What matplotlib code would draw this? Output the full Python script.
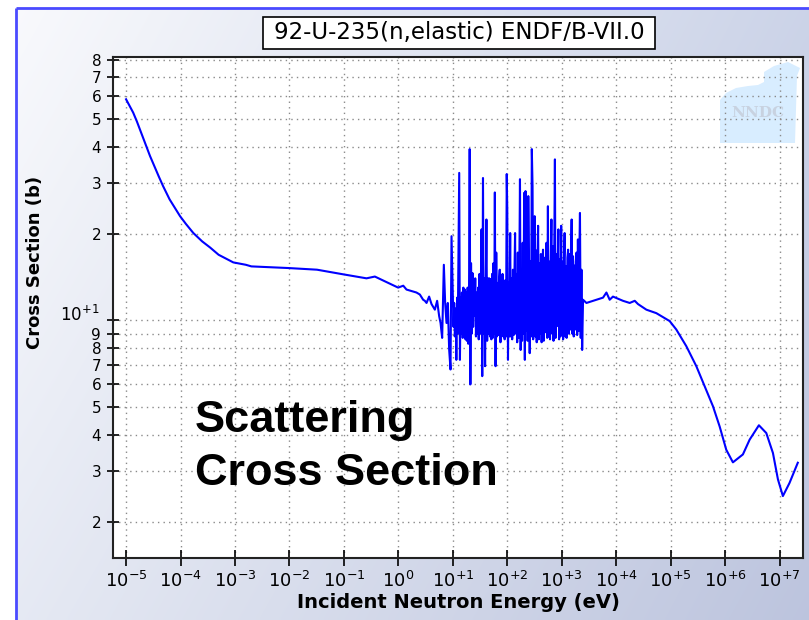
import numpy as np
import matplotlib
matplotlib.use('Agg')
import matplotlib.pyplot as plt
from matplotlib.ticker import FixedLocator, FixedFormatter, NullLocator
from matplotlib.patches import Polygon, Rectangle

# ---------------- data ----------------
title = "92-U-235(n,elastic) ENDF/B-VII.0"
xlabel = "Incident Neutron Energy (eV)"
ylabel = "Cross Section (b)"
annotation = ["Scattering", "Cross Section"]

# smooth low-energy part (eV, barns)
e_low = [1e-5, 1.35e-5, 1.58e-5, 2.1e-5, 2.75e-5, 3.98e-5, 4.8e-5, 6.3e-5, 9.8e-5,
         1.26e-4, 1.72e-4, 2.5e-4, 3.5e-4, 5.0e-4, 9.3e-4, 1.58e-3, 2.0e-3, 9.5e-3,
         3.2e-2, 9.8e-2, 0.26, 0.37, 0.99, 1.23, 1.41, 2.15, 2.48,
         2.85, 3.06, 3.29, 3.67, 4.06, 4.68, 5.15, 5.61, 5.95, 6.37, 6.84, 7.23,
         7.66, 8.09, 8.56, 9.07, 9.46]
s_low = [58.5, 52.6, 49.0, 42.5, 37.2, 31.6, 29.2, 26.3, 23.0,
         21.6, 20.1, 18.8, 17.9, 16.9, 15.9, 15.6, 15.4, 15.2,
         15.0, 14.45, 14.0, 14.2, 13.0, 13.2, 12.8, 12.5, 12.3,
         11.8, 11.7, 11.5, 12.1, 11.4, 10.9, 11.7, 10.35, 9.8, 8.7, 15.6, 11.5,
         9.8, 11.5, 7.93, 6.76, 19.6]

# resolved resonance region, 10 - 100 eV (eV, barns)
e_res1 = [10.0, 10.3, 10.6, 10.9, 11.3, 11.6, 12.0, 12.3, 12.7, 13.1, 13.5, 13.9,
          14.3, 14.7, 15.2, 15.6, 16.1, 16.6, 17.1, 17.6, 18.1, 18.7, 19.2, 19.8,
          20.4, 21.0, 21.6, 22.3, 23.0, 23.6, 24.3, 25.1, 25.8, 26.6, 27.4, 28.2,
          29.1, 29.9, 30.8, 31.8, 32.7, 33.7, 34.7, 35.8, 36.8, 37.9, 39.1, 40.2,
          41.4, 42.7, 44.0, 45.3, 46.7, 48.1, 49.5, 51.0, 52.5, 54.1, 55.7, 57.4,
          59.1, 60.9, 62.7, 64.6, 66.5, 68.5, 70.6, 72.7, 74.9, 77.1, 79.4, 81.8,
          84.3, 86.8, 89.4, 92.1, 94.8, 97.7]
s_res1 = [12.5, 9.5, 11.5, 8.8, 11.0, 7.3, 12.0, 9.0, 17.6, 32.5, 7.3, 12.0,
          9.0, 12.5, 8.7, 13.0, 9.2, 12.8, 8.6, 12.5, 8.5, 13.0, 8.3, 11.5,
          39.3, 6.0, 15.8, 9.0, 14.6, 9.5, 13.5, 10.4, 14.0, 8.8, 12.5, 9.0,
          13.0, 8.6, 14.5, 9.0, 13.5, 20.7, 6.41, 31.2, 9.0, 14.0, 6.94, 13.0,
          22.4, 8.5, 14.0, 9.0, 14.0, 8.8, 13.9, 8.6, 14.5, 8.7, 15.8, 9.0,
          27.8, 6.94, 17.2, 8.8, 13.5, 8.9, 13.8, 15.0, 8.4, 14.0, 9.3, 14.5,
          8.8, 12.8, 8.6, 13.8, 8.8, 32.2]

# resolved resonance region, 100 - 1000 eV (eV, barns)
e_res2 = [100, 103, 106, 109, 113, 116, 120, 123, 127, 131, 135, 139, 143, 147,
          152, 156, 161, 166, 171, 176, 181, 187, 192, 198, 204, 210, 216, 223,
          230, 236, 243, 251, 258, 266, 274, 282, 291, 299, 308, 318, 327, 337,
          347, 358, 368, 379, 391, 402, 414, 427, 440, 453, 467, 481, 495, 510,
          525, 541, 557, 574, 591, 609, 627, 646, 665, 685, 706, 727, 749, 771,
          794, 818, 843, 868, 894, 921, 948, 977]
s_res2 = [24.3, 7.3, 13.5, 8.8, 20.1, 8.8, 14.0, 8.6, 15.0, 8.9, 14.0, 20.1, 9.0, 14.5,
          8.4, 17.2, 8.7, 14.0, 30.9, 7.9, 15.0, 8.5, 18.6, 9.0, 27.7, 7.3, 28.1, 9.2,
          21.3, 8.5, 27.0, 15.5, 7.7, 16.0, 8.8, 39.3, 29.2, 8.6, 16.5, 23.0, 8.8, 17.5,
          8.4, 16.0, 21.3, 8.6, 15.8, 9.0, 17.0, 8.4, 15.5, 17.6, 8.5, 16.5, 9.1, 15.5,
          18.6, 8.7, 24.9, 8.8, 16.0, 8.6, 15.5, 22.4, 9.0, 18.1, 8.5, 16.5, 36.2, 8.7,
          17.0, 9.56, 15.5, 20.7, 8.6, 16.3, 8.8, 21.3]

# resolved resonance region, 1 - 2.4 keV (eV, barns)
e_res3 = [1000, 1030, 1060, 1090, 1130, 1160, 1200, 1230, 1270, 1310, 1350, 1390,
          1430, 1470, 1520, 1560, 1610, 1660, 1710, 1760, 1810, 1870, 1920, 1980,
          2040, 2100, 2160, 2230, 2300, 2370]
s_res3 = [9.0, 16.0, 8.6, 15.5, 20.1, 8.8, 15.4, 8.7, 16.5, 17.6, 9.0, 17.0,
          9.3, 15.5, 22.4, 9.0, 16.7, 8.8, 15.5, 9.3, 16.0, 17.2, 8.9, 19.1,
          9.2, 16.5, 23.6, 8.7, 15.0, 7.9]

# unresolved / fast region (eV, barns)
e_high = [2460, 2840, 3760, 5730, 6610, 7590, 8720, 13300, 17700, 21900, 25100,
          35800, 54600, 95900, 1.27e5, 1.94e5, 2.96e5, 4.21e5, 5.98e5, 7.93e5,
          1.05e6, 1.39e6, 2.12e6, 2.82e6, 4.17e6, 5.70e6, 7.55e6, 9.33e6,
          1.15e7, 1.52e7, 2.16e7]
s_high = [11.8, 11.5, 11.7, 12.0, 12.5, 11.8, 12.1, 11.7, 11.5, 11.7, 11.4,
          10.9, 10.6, 9.95, 9.3, 8.14, 6.94, 5.91, 5.04, 4.29,
          3.56, 3.22, 3.43, 3.86, 4.33, 4.07, 3.47, 2.81,
          2.46, 2.73, 3.21]

x_ticks = [1e-5, 1e-4, 1e-3, 1e-2, 1e-1, 1e0, 1e1, 1e2, 1e3, 1e4, 1e5, 1e6, 1e7]
x_ticklabels = [r'$10^{-5}$', r'$10^{-4}$', r'$10^{-3}$', r'$10^{-2}$', r'$10^{-1}$',
                r'$10^{0}$', r'$10^{+1}$', r'$10^{+2}$', r'$10^{+3}$', r'$10^{+4}$',
                r'$10^{+5}$', r'$10^{+6}$', r'$10^{+7}$']
y_ticks = [2, 3, 4, 5, 6, 7, 8, 9, 10, 20, 30, 40, 50, 60, 70, 80]
y_ticklabels = ['2', '3', '4', '5', '6', '7', '8', '9', '',
                '2', '3', '4', '5', '6', '7', '8']
y_decade_label = r'$10^{+1}$'

energy = e_low + e_res1 + e_res2 + e_res3 + e_high
sigma = s_low + s_res1 + s_res2 + s_res3 + s_high

# ---------------- figure ----------------
W, H = 809, 620
plt.rcParams['font.family'] = ['DejaVu Sans']
plt.rcParams['mathtext.fontset'] = 'dejavusans'
fig = plt.figure(figsize=(W / 100, H / 100), dpi=100)
fig.patch.set_facecolor('white')

# gradient background with blue frame
bg = fig.add_axes([0, 0, 1, 1], zorder=-10)
bg.axis('off')
nx, ny = 200, 160
u = np.linspace(0, 1, nx)[None, :, None]
v = np.linspace(0, 1, ny)[:, None, None]
TL = np.array([0.975, 0.978, 0.99])
TR = np.array([0.80, 0.83, 0.91])
BL = np.array([0.90, 0.915, 0.955])
BR = np.array([0.74, 0.77, 0.87])
img = (1 - u) * (1 - v) * TL + u * (1 - v) * TR + (1 - u) * v * BL + u * v * BR
bg.imshow(img, extent=(16, W, H, 8), aspect='auto', interpolation='bilinear')
bg.plot([16, 16], [H, 8], color='#4a4aff', lw=2, solid_capstyle='butt')
bg.plot([16, W], [8, 8], color='#4a4aff', lw=2, solid_capstyle='butt')
bg.set_xlim(0, W)
bg.set_ylim(H, 0)

L, R, T, B = 113, 803, 57, 558
ax = fig.add_axes([L / W, 1 - B / H, (R - L) / W, (B - T) / H])
ax.set_facecolor('white')
ax.set_xscale('log')
ax.set_yscale('log')
ax.set_xlim(10 ** -5.24, 10 ** 7.43)
ax.set_ylim(1.5, 82)

ax.xaxis.set_major_locator(FixedLocator(x_ticks))
ax.xaxis.set_major_formatter(FixedFormatter(x_ticklabels))
ax.xaxis.set_minor_locator(NullLocator())
ax.yaxis.set_major_locator(FixedLocator(y_ticks))
ax.yaxis.set_major_formatter(FixedFormatter(y_ticklabels))
ax.yaxis.set_minor_locator(NullLocator())
ax.tick_params(axis='x', direction='inout', length=12, width=1.2, labelsize=13, pad=3)
ax.tick_params(axis='y', direction='inout', length=9, width=1.2, labelsize=11, pad=4)
for sp in ax.spines.values():
    sp.set_linewidth(1.5)
    sp.set_color('#222222')

ax.set_axisbelow(True)
ax.grid(True, which='major', linestyle=(0, (1, 3)), color='#8a8a8a', lw=1.0)

# faint NNDC logo (top right)
logo_px = [(720, 143), (720, 100), (726, 93), (736, 88), (748, 86), (758, 85),
           (764, 82), (764, 72), (774, 66), (788, 62), (800, 68), (797, 76), (795, 143)]
logo = Polygon([(x / W, 1 - y / H) for x, y in logo_px], closed=True,
               transform=fig.transFigure, facecolor='#d8edff', edgecolor='none',
               zorder=0.2)
ax.add_patch(logo)
fig.text(758 / W, 1 - 113 / H, 'NNDC', ha='center', va='center', fontsize=11,
         family='DejaVu Serif', fontweight='bold', color='#c8d2e0', zorder=1)

ax.plot(energy, sigma, color='#0000ff', lw=1.5, zorder=3)

# decade label on the y axis
fig.text(99 / W, 1 - 315 / H, y_decade_label, ha='right', va='center', fontsize=12)

# annotation text
fig.text(195 / W, 1 - 432 / H, annotation[0], ha='left', va='baseline',
         fontsize=32.5, fontweight='bold', family='Liberation Sans', color='black')
fig.text(195 / W, 1 - 485 / H, annotation[1], ha='left', va='baseline',
         fontsize=32.5, fontweight='bold', family='Liberation Sans', color='black')

# title box
fig.patches.append(Rectangle((263 / W, 1 - 49 / H), (655 - 263) / W, 32 / H,
                             transform=fig.transFigure, facecolor='white',
                             edgecolor='black', lw=1.2, zorder=5))
fig.text(459 / W, 1 - 33 / H, title, ha='center', va='center', fontsize=16.5, zorder=6)

fig.text(458 / W, 1 - 603 / H, xlabel, ha='center', va='center', fontsize=14,
         fontweight='bold')
fig.text(35 / W, 1 - 262 / H, ylabel, ha='center', va='center', fontsize=13,
         fontweight='bold', rotation=90)

fig.savefig('out.png', dpi=100)
